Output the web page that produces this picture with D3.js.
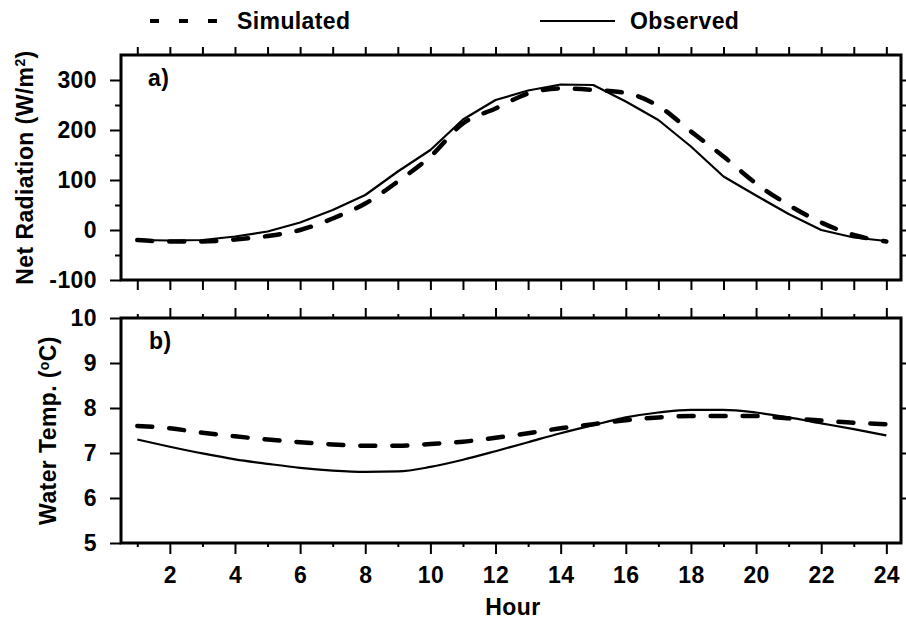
<!DOCTYPE html>
<html>
<head>
<meta charset="utf-8">
<script src="https://cdn.jsdelivr.net/npm/d3@7"></script>
<style>
  html, body { margin: 0; padding: 0; background: #fff; }
  svg text { font-family: "Liberation Sans", Arial, Helvetica, sans-serif; font-weight: bold; fill: #000; letter-spacing: 0.4px; }
</style>
</head>
<body>
<svg id="chart" width="906" height="624"></svg>
<script>
// Hour of day
const hours = [1, 2, 3, 4, 5, 6, 7, 8, 9, 10, 11, 12, 13, 14, 15, 16, 17, 18, 19, 20, 21, 22, 23, 24];

// Net radiation (W/m2)
const netSimulated = [-20, -23, -23, -19, -12, 0, 23, 53, 97, 147, 213, 243, 273, 283, 280, 274, 248, 197, 147, 93, 50, 15, -10, -23];
const netObserved  = [-20, -21, -20, -13, -3, 15, 40, 70, 117, 160, 221, 260, 279, 291, 290, 257, 220, 167, 107, 69, 32, 0, -15, -22];

// Water temperature (deg C)
const waterSimulated = [7.60, 7.55, 7.45, 7.37, 7.30, 7.24, 7.19, 7.16, 7.16, 7.20, 7.25, 7.34, 7.44, 7.55, 7.64, 7.73, 7.79, 7.82, 7.82, 7.82, 7.77, 7.72, 7.67, 7.64];
const waterObserved  = [7.30, 7.14, 6.99, 6.86, 6.76, 6.67, 6.61, 6.58, 6.59, 6.69, 6.85, 7.04, 7.24, 7.44, 7.62, 7.79, 7.90, 7.96, 7.96, 7.90, 7.79, 7.66, 7.53, 7.39];

// Axis ticks and labels
const hourTicksMajor = [2, 4, 6, 8, 10, 12, 14, 16, 18, 20, 22, 24];
const hourTicksMinor = [1, 3, 5, 7, 9, 11, 13, 15, 17, 19, 21, 23];
const netTicksMajor = [-100, 0, 100, 200, 300];
const netTicksMinor = [-50, 50, 150, 250];
const netTicksRight = [-50, 0, 50, 100, 150, 200, 250, 300];
const waterTicks = [5, 6, 7, 8, 9, 10];
const waterTicksRight = [6, 7, 8, 9];

const legendLabels = ["Simulated", "Observed"];
const panelLabels = ["a)", "b)"];

const svg = d3.select("#chart");

const left = 121, right = 901;
const x = d3.scaleLinear().domain([0.5, 24.45]).range([left, right]);

const yNet = d3.scaleLinear().domain([-100, 350]).range([280, 55]);
const yWater = d3.scaleLinear().domain([5, 10]).range([543, 318]);

const FS = 23;

function styleAxis(g) {
  g.select(".domain").remove();
  g.selectAll(".tick line").attr("stroke", "#000").attr("stroke-width", 2);
  g.selectAll(".tick text").attr("font-size", FS).attr("fill", "#000")
    .style("font-family", '"Liberation Sans", Arial, sans-serif').style("font-weight", "bold");
}

function addAxis(axis, tx, ty) {
  svg.append("g").attr("transform", `translate(${tx},${ty})`).call(axis).call(styleAxis);
}

// ---------- Panel a: net radiation ----------
const aTop = yNet.range()[1], aBot = yNet.range()[0];

addAxis(d3.axisLeft(yNet).tickValues(netTicksMajor).tickSize(11).tickPadding(13).tickFormat(d => String(d)), left, 0);
addAxis(d3.axisLeft(yNet).tickValues(netTicksMinor).tickSize(6).tickFormat(""), left, 0);
addAxis(d3.axisRight(yNet).tickValues(netTicksRight).tickSize(5).tickFormat(""), right, 0);
addAxis(d3.axisTop(x).tickValues(hours).tickSize(8).tickFormat(""), 0, aTop);
addAxis(d3.axisBottom(x).tickValues(hours).tickSize(10).tickFormat(""), 0, aBot);

svg.append("rect")
  .attr("x", left).attr("y", aTop).attr("width", right - left).attr("height", aBot - aTop)
  .attr("fill", "none").attr("stroke", "#000").attr("stroke-width", 3);

// ---------- Panel b: water temperature ----------
const bTop = yWater.range()[1], bBot = yWater.range()[0];

addAxis(d3.axisLeft(yWater).tickValues(waterTicks).tickSize(11).tickPadding(13).tickFormat(d => String(d)), left, 0);
addAxis(d3.axisRight(yWater).tickValues(waterTicksRight).tickSize(5).tickFormat(""), right, 0);
addAxis(d3.axisTop(x).tickValues(hourTicksMajor).tickSize(10).tickFormat(""), 0, bTop);
addAxis(d3.axisTop(x).tickValues(hourTicksMinor).tickSize(4).tickFormat(""), 0, bTop);
addAxis(d3.axisBottom(x).tickValues(hourTicksMajor).tickSize(11).tickPadding(13).tickFormat(d => String(d)), 0, bBot);
addAxis(d3.axisBottom(x).tickValues(hourTicksMinor).tickSize(4).tickFormat(""), 0, bBot);

svg.append("rect")
  .attr("x", left).attr("y", bTop).attr("width", right - left).attr("height", bBot - bTop)
  .attr("fill", "none").attr("stroke", "#000").attr("stroke-width", 3);

// ---------- Curves ----------
const DASH = "15,17";

function drawSeries(values, yScale, dashed, curve) {
  const line = d3.line()
    .x((d, i) => x(hours[i]))
    .y(d => yScale(d))
    .curve(curve);
  svg.append("path")
    .datum(values)
    .attr("d", line)
    .attr("fill", "none")
    .attr("stroke", "#000")
    .attr("stroke-width", dashed ? 4.5 : 2.2)
    .attr("stroke-linecap", dashed ? "round" : "butt")
    .attr("stroke-linejoin", "round")
    .attr("stroke-dasharray", dashed ? DASH : null);
}

drawSeries(netObserved, yNet, false, d3.curveLinear);
drawSeries(netSimulated, yNet, true, d3.curveMonotoneX);
drawSeries(waterObserved, yWater, false, d3.curveMonotoneX);
drawSeries(waterSimulated, yWater, true, d3.curveMonotoneX);

// ---------- Panel labels ----------
svg.append("text").attr("x", 148).attr("y", 86).attr("font-size", FS).text(panelLabels[0]);
svg.append("text").attr("x", 149).attr("y", 349).attr("font-size", FS).text(panelLabels[1]);

// ---------- Axis titles ----------
const netTitle = svg.append("text")
  .attr("transform", `translate(33,${(aTop + aBot) / 2}) rotate(-90)`)
  .attr("text-anchor", "middle").attr("font-size", FS);
netTitle.append("tspan").text("Net Radiation (W/m");
netTitle.append("tspan").attr("dy", -8).attr("font-size", 14).text("2");
netTitle.append("tspan").attr("dy", 8).text(")");

const waterTitle = svg.append("text")
  .attr("transform", `translate(56,${(bTop + bBot) / 2}) rotate(-90)`)
  .attr("text-anchor", "middle").attr("font-size", FS);
waterTitle.append("tspan").text("Water Temp. (");
waterTitle.append("tspan").attr("dy", -7).attr("font-size", 14).text("o");
waterTitle.append("tspan").attr("dy", 7).text("C)");

svg.append("text")
  .attr("x", (left + right) / 2 + 2).attr("y", 615)
  .attr("text-anchor", "middle").attr("font-size", FS).text("Hour");

// ---------- Legend ----------
svg.append("line")
  .attr("x1", 150).attr("x2", 228).attr("y1", 21).attr("y2", 21)
  .attr("stroke", "#000").attr("stroke-width", 4).attr("stroke-dasharray", "9,20");
svg.append("text").attr("x", 237).attr("y", 29).attr("font-size", FS).text(legendLabels[0]);

svg.append("line")
  .attr("x1", 540).attr("x2", 615).attr("y1", 21).attr("y2", 21)
  .attr("stroke", "#000").attr("stroke-width", 2.2);
svg.append("text").attr("x", 630).attr("y", 29).attr("font-size", FS).text(legendLabels[1]);
</script>
</body>
</html>
